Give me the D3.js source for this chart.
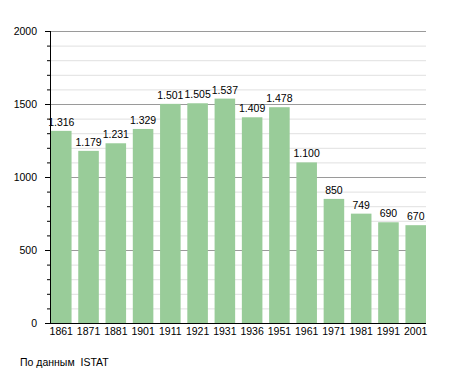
<!DOCTYPE html>
<html><head><meta charset="utf-8">
<script src="https://cdn.jsdelivr.net/npm/d3@7"></script>
<style>body{margin:0;background:#fff}svg{display:block}text{font-family:"Liberation Sans",Arial,sans-serif;white-space:pre}</style>
</head><body><svg id="c" width="455" height="373"></svg>
<script>
const years = ["1861","1871","1881","1901","1911","1921","1931","1936","1951","1961","1971","1981","1991","2001"];
const population = [1316,1179,1231,1329,1501,1505,1537,1409,1478,1100,850,749,690,670];
const labels = ["1.316","1.179","1.231","1.329","1.501","1.505","1.537","1.409","1.478","1.100","850","749","690","670"];
const majorTicks = [0,500,1000,1500,2000];
const minorTicks = d3.range(0,2001,100);
const source = "По данным  ISTAT";

const svg = d3.select("#c");
const m = {l:50, r:426, t:31, b:323};
const fs = 10.5;
const x = d3.scaleBand().domain(years).range([m.l+1, m.r]).paddingInner(0.246).paddingOuter(0);
const y = d3.scaleLinear().domain([0,2000]).range([m.b, m.t]);

svg.append("g").selectAll("line").data(minorTicks.filter(v=>v%500!==0)).join("line")
  .attr("x1",m.l).attr("x2",m.r).attr("y1",d=>y(d)+0.5).attr("y2",d=>y(d)+0.5)
  .attr("stroke","#e0e0e0").attr("stroke-width",1);
svg.append("g").selectAll("line").data(majorTicks.filter(v=>v>0)).join("line")
  .attr("x1",m.l).attr("x2",m.r).attr("y1",d=>y(d)+0.5).attr("y2",d=>y(d)+0.5)
  .attr("stroke","#9a9a9a").attr("stroke-width",1);

svg.append("g").selectAll("rect").data(population).join("rect")
  .attr("x",(d,i)=>x(years[i])).attr("width",x.bandwidth())
  .attr("y",d=>y(d)).attr("height",d=>y(0)-y(d))
  .attr("fill","#99cc99");

svg.append("g").selectAll("text").data(population).join("text")
  .attr("x",(d,i)=>x(years[i])+x.bandwidth()/2).attr("y",d=>y(d)-5)
  .attr("text-anchor","middle").attr("font-size",fs).attr("fill","#000")
  .text((d,i)=>labels[i]);

// y axis
const ya = svg.append("g");
ya.append("line").attr("x1",m.l+0.5).attr("x2",m.l+0.5).attr("y1",m.t).attr("y2",m.b+0.5).attr("stroke","#000");
ya.selectAll("line.mi").data(minorTicks).join("line").attr("class","mi")
  .attr("x1",d=>d%500===0?m.l-5:m.l-3).attr("x2",m.l).attr("y1",d=>y(d)+0.5).attr("y2",d=>y(d)+0.5).attr("stroke","#000");
ya.selectAll("text").data(majorTicks).join("text")
  .attr("x",m.l-13).attr("y",d=>y(d)+4).attr("text-anchor","end").attr("font-size",fs).text(d=>d);

// x axis
svg.append("line").attr("x1",m.l).attr("x2",m.r).attr("y1",m.b+0.5).attr("y2",m.b+0.5).attr("stroke","#000");
svg.append("g").selectAll("text").data(years).join("text")
  .attr("x",d=>x(d)+x.bandwidth()/2).attr("y",m.b+12).attr("text-anchor","middle").attr("font-size",fs).text(d=>d);

svg.append("text").attr("x",20).attr("y",366).attr("font-size",fs).text(source);
</script></body></html>
